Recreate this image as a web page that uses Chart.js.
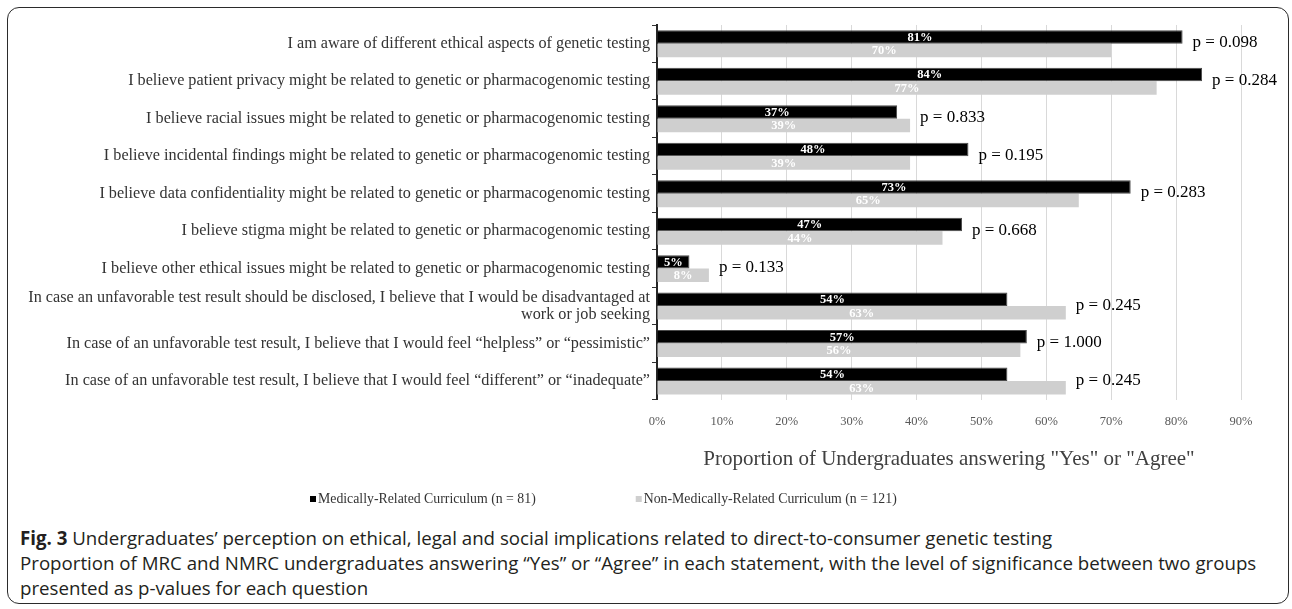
<!DOCTYPE html>
<html>
<head>
<meta charset="utf-8">
<script src="https://cdn.jsdelivr.net/npm/chart.js@4.4.0/dist/chart.umd.min.js"></script>
<style>
  html, body { margin: 0; padding: 0; background: #fff; }
  body { width: 1292px; height: 609px; position: relative; overflow: hidden; }
  #frame {
    position: absolute; left: 7px; top: 7px; width: 1282px; height: 597px;
    box-sizing: border-box; border: 1.5px solid #2b2b2b; border-radius: 12px;
  }
  #wrap { position: absolute; left: 0; top: 0; width: 1292px; height: 520px; }
  #caption {
    position: absolute; left: 20px; top: 525px; width: 1270px;
    font-family: "Open Sans", sans-serif; font-size: 18.7px; line-height: 25px;
    color: #231f20; white-space: nowrap;
  }
  #caption b { font-weight: 700; }
</style>
</head>
<body>
<div id="frame"></div>
<div id="wrap"><canvas id="chart" width="1292" height="520"></canvas></div>
<div id="caption">
  <b>Fig. 3</b> Undergraduates’ perception on ethical, legal and social implications related to direct-to-consumer genetic testing<br>
  Proportion of MRC and NMRC undergraduates answering “Yes” or “Agree” in each statement, with the level of significance between two groups<br>
  presented as p-values for each question
</div>
<script>
// Survey statements (y-axis categories)
const categories = [
  'I am aware of different ethical aspects of genetic testing',
  'I believe patient privacy might be related to genetic or pharmacogenomic testing',
  'I believe racial issues might be related to genetic or pharmacogenomic testing',
  'I believe incidental findings might be related to genetic or pharmacogenomic testing',
  'I believe data confidentiality might be related to genetic or pharmacogenomic testing',
  'I believe stigma might be related to genetic or pharmacogenomic testing',
  'I believe other ethical issues might be related to genetic or pharmacogenomic testing',
  ['In case an unfavorable test result should be disclosed, I believe that I would be disadvantaged at', 'work or job seeking'],
  'In case of an unfavorable test result, I believe that I would feel \u201chelpless\u201d or \u201cpessimistic\u201d',
  'In case of an unfavorable test result, I believe that I would feel \u201cdifferent\u201d or \u201cinadequate\u201d'
];

// Percent answering "Yes" / "Agree"
const mrcValues  = [81, 84, 37, 48, 73, 47, 5, 54, 57, 54];
const nmrcValues = [70, 77, 39, 39, 65, 44, 8, 63, 56, 63];

// p-values comparing the two groups
const pValues = ['0.098', '0.284', '0.833', '0.195', '0.283', '0.668', '0.133', '0.245', '1.000', '0.245'];

const seriesNames = ['Medically-Related Curriculum (n = 81)', 'Non-Medically-Related Curriculum (n = 121)'];

// x-axis range and tick step, in percent
const xMin = 0, xMax = 90, xStep = 10;
const axisTitle = 'Proportion of Undergraduates answering "Yes" or "Agree"';

const SERIF = '"Liberation Serif", "Times New Roman", serif';

// Percent labels inside each bar, p-values after each pair, and the legend row
const annotations = {
  id: 'annotations',
  afterDatasetsDraw(chart) {
    const ctx = chart.ctx;
    ctx.save();
    ctx.textBaseline = 'middle';

    // percentages centred in the bars
    ctx.font = 'bold 12.5px ' + SERIF;
    ctx.fillStyle = '#ffffff';
    ctx.textAlign = 'center';
    chart.data.datasets.forEach((ds, di) => {
      const meta = chart.getDatasetMeta(di);
      meta.data.forEach((bar, j) => {
        const p = bar.getProps(['x', 'y', 'base'], true);
        ctx.fillText(ds.data[j] + '%', (p.x + p.base) / 2, p.y + 0.5);
      });
    });

    // p-values to the right of the longer bar
    ctx.font = '17px ' + SERIF;
    ctx.fillStyle = '#000000';
    ctx.textAlign = 'left';
    const m0 = chart.getDatasetMeta(0).data;
    const m1 = chart.getDatasetMeta(1).data;
    pValues.forEach((pv, j) => {
      const a = m0[j].getProps(['x', 'y'], true);
      const b = m1[j].getProps(['x', 'y'], true);
      const x = Math.max(a.x, b.x) + 10;
      const y = (a.y + b.y) / 2 - 1;
      ctx.fillText('p = ' + pv, x, y);
    });
    ctx.restore();
  },
  afterDraw(chart) {
    const ctx = chart.ctx;
    ctx.save();
    ctx.font = '13.8px ' + SERIF;
    ctx.textBaseline = 'middle';
    ctx.textAlign = 'left';
    const y = 499;
    let x = 310;
    chart.data.datasets.forEach((ds) => {
      ctx.fillStyle = ds.backgroundColor;
      ctx.fillRect(x, y - 3, 6, 6);
      ctx.fillStyle = '#333333';
      ctx.fillText(ds.label, x + 8, y);
      x += 8 + ctx.measureText(ds.label).width + 100;
    });
    ctx.restore();
  }
};

new Chart(document.getElementById('chart'), {
  type: 'bar',
  data: {
    labels: categories,
    datasets: [
      {
        label: seriesNames[0],
        data: mrcValues,
        backgroundColor: '#000000',
        borderColor: '#4a4a4a',
        borderWidth: 1,
        categoryPercentage: 0.72,
        barPercentage: 1.0
      },
      {
        label: seriesNames[1],
        data: nmrcValues,
        backgroundColor: '#cfcfcf',
        borderWidth: 0,
        categoryPercentage: 0.72,
        barPercentage: 1.0
      }
    ]
  },
  options: {
    indexAxis: 'y',
    responsive: false,
    animation: false,
    layout: { padding: { top: 25, left: 0, right: 51, bottom: 48 } },
    plugins: {
      legend: { display: false },
      tooltip: { enabled: false }
    },
    scales: {
      x: {
        min: xMin,
        max: xMax,
        ticks: {
          stepSize: xStep,
          callback: (v) => v + '%',
          font: { family: SERIF, size: 12.5 },
          color: '#595959',
          padding: 14
        },
        grid: { color: '#d9d9d9', lineWidth: 1, drawTicks: false },
        border: { display: false },
        title: {
          display: true,
          text: axisTitle,
          font: { family: SERIF, size: 21 },
          color: '#404040',
          padding: { top: 4, bottom: 0 }
        }
      },
      y: {
        grid: { drawOnChartArea: false, drawTicks: true, tickLength: 5, color: '#333333', offset: true },
        border: { display: true, color: '#262626', width: 2 },
        ticks: {
          autoSkip: false,
          font: { family: SERIF, size: 16.2, lineHeight: 1.06 },
          color: '#333333',
          padding: 2
        },
        afterFit(scale) { scale.width = 657; }
      }
    }
  },
  plugins: [annotations]
});
</script>
</body>
</html>
